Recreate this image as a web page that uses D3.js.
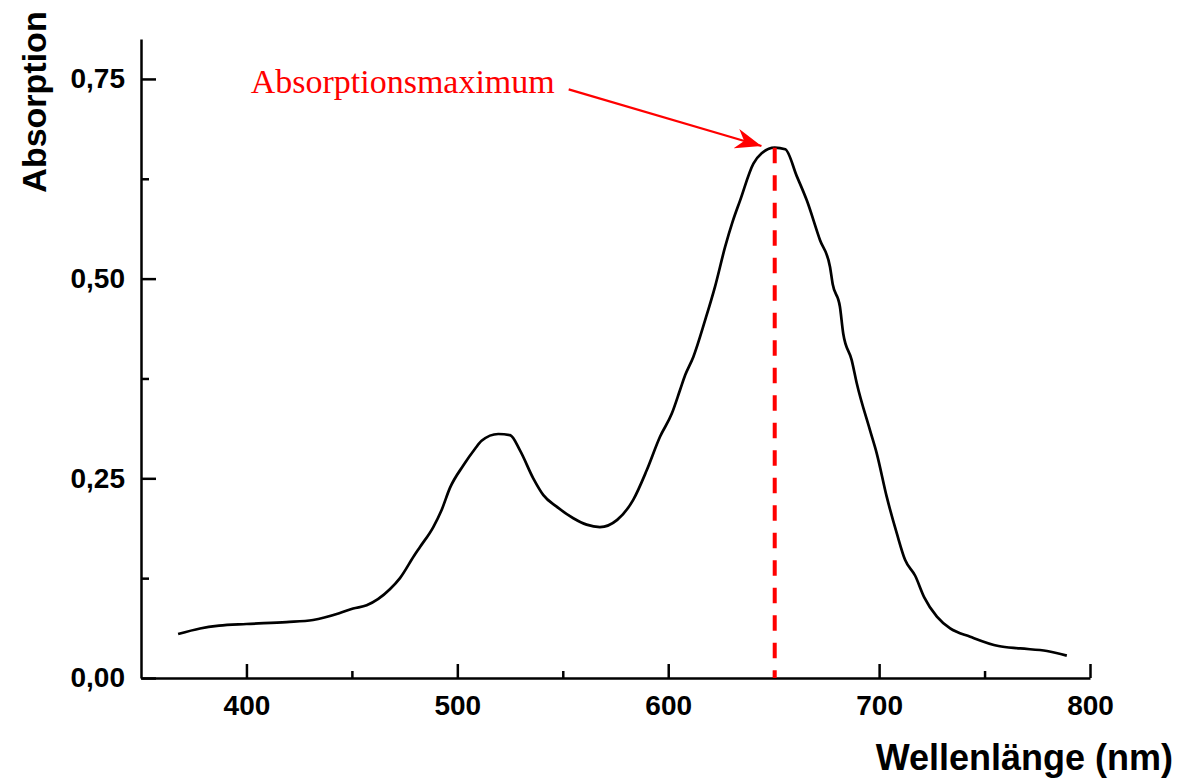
<!DOCTYPE html>
<html><head><meta charset="utf-8">
<script src="https://cdn.jsdelivr.net/npm/d3@7"></script>
<style>
html,body{margin:0;padding:0;background:#fff;}
svg{display:block;}
</style></head>
<body>
<svg id="chart" width="1178" height="779"></svg>
<script>
// ---- data ----
const wavelength = [367.6,378,387,400,419,431.6,444,450.6,457,468,472.8,479.5,482.3,488.6,492.5,496.5,502.8,508.4,511.5,519.4,525,529.7,536,540.8,547.1,555,561.3,567.6,575.8,583.4,589.8,596.1,601.7,605.6,608,611.9,617.5,622.2,627,630.5,634.1,640.4,644.3,650.5,655.5,661,665.7,672,676.7,678,681.4,683,687,689.4,695.7,698.9,703.6,708.4,712.3,717.1,721.4,727.4,733.7,743.2,756.6,766.9,779.6,789];
const absorption = [0.055,0.062,0.0655,0.0676,0.070,0.0726,0.081,0.087,0.091,0.111,0.125,0.153,0.164,0.189,0.210,0.238,0.266,0.287,0.297,0.3055,0.304,0.285,0.250,0.229,0.2145,0.200,0.192,0.189,0.198,0.223,0.260,0.302,0.331,0.3605,0.379,0.402,0.448,0.490,0.540,0.571,0.598,0.644,0.657,0.664,0.662,0.628,0.598,0.548,0.515,0.493,0.465,0.431,0.398,0.369,0.310,0.281,0.227,0.181,0.148,0.128,0.101,0.0768,0.062,0.0517,0.040,0.037,0.0338,0.028];
const xMajorTicks = [400,500,600,700,800];
const xMinorTicks = [450,550,650,750];
const yMajorTicks = [0,0.25,0.5,0.75];
const yMinorTicks = [0.125,0.375,0.625];
const xDomain = [350,800];
const yDomain = [0,0.8];
const peakWavelength = 650.5;
const peakAbsorption = 0.664;
const annotationText = "Absorptionsmaximum";
const annotationTextPos = [402, 0.732];      // data coords (text start)
const arrowStart = [552.8, 0.737];            // data coords
const arrowEnd = [644.2, 0.666];              // data coords
const xLabel = "Wellenlänge (nm)";
const yLabel = "Absorption";

// ---- drawing ----
const svg = d3.select("#chart");
const x = d3.scaleLinear().domain(xDomain).range([141, 1090]);
const y = d3.scaleLinear().domain(yDomain).range([678, 39]);
const loc = d3.formatLocale({decimal:",",thousands:".",grouping:[3],currency:["","€"]});
const fmt = loc.format(".2f");

const tickFont = "'Liberation Sans', Arial, sans-serif";

// X axis
const gx = svg.append("g").attr("transform","translate(0,678)");
gx.call(d3.axisBottom(x).tickValues(xMajorTicks).tickSizeInner(-14).tickSizeOuter(0).tickPadding(17).tickFormat(d3.format("d")));
const gxm = svg.append("g").attr("transform","translate(0,678)");
gxm.call(d3.axisBottom(x).tickValues(xMinorTicks).tickSizeInner(-7).tickSizeOuter(0).tickFormat(""));
gxm.select(".domain").remove();

// Y axis
const gy = svg.append("g").attr("transform","translate(141,0)");
gy.call(d3.axisLeft(y).tickValues(yMajorTicks).tickSizeInner(-15).tickSizeOuter(0).tickPadding(16).tickFormat(fmt));
const gym = svg.append("g").attr("transform","translate(141,0)");
gym.call(d3.axisLeft(y).tickValues(yMinorTicks).tickSizeInner(-8).tickSizeOuter(0).tickFormat(""));
gym.select(".domain").remove();

svg.selectAll(".domain, .tick line").attr("stroke","#000").attr("stroke-width",2.5);
svg.selectAll(".tick text").attr("font-family",tickFont).attr("font-weight","bold").attr("font-size",28).attr("fill","#000");

// axis titles
svg.append("text").attr("x",1173).attr("y",770).attr("text-anchor","end")
  .attr("font-family",tickFont).attr("font-weight","bold").attr("font-size",36).text(xLabel);
svg.append("text").attr("transform","translate(46,102) rotate(-90)").attr("text-anchor","middle")
  .attr("font-family",tickFont).attr("font-weight","bold").attr("font-size",34).text(yLabel);

// spectrum
const line = d3.line().x((d,i)=>x(wavelength[i])).y((d,i)=>y(absorption[i])).curve(d3.curveMonotoneX);
svg.append("path").datum(wavelength).attr("d",line).attr("fill","none").attr("stroke","#000").attr("stroke-width",2.7).attr("stroke-linejoin","round");

// dashed peak line
svg.append("line").attr("x1",x(peakWavelength)).attr("x2",x(peakWavelength))
  .attr("y1",y(peakAbsorption)).attr("y2",y(0))
  .attr("stroke","#ff0000").attr("stroke-width",4).attr("stroke-dasharray","15.5,12");

// annotation
svg.append("defs").append("marker").attr("id","arrow").attr("viewBox","0 0 26 20")
  .attr("refX",26).attr("refY",10).attr("markerWidth",26).attr("markerHeight",20)
  .attr("markerUnits","userSpaceOnUse").attr("orient","auto")
  .append("path").attr("d","M0,0 L26,10 L0,20 L8,10 Z").attr("fill","#ff0000");
svg.append("line").attr("x1",x(arrowStart[0])).attr("y1",y(arrowStart[1]))
  .attr("x2",x(arrowEnd[0])).attr("y2",y(arrowEnd[1]))
  .attr("stroke","#ff0000").attr("stroke-width",2.2).attr("marker-end","url(#arrow)");
svg.append("text").attr("x",x(annotationTextPos[0])).attr("y",y(annotationTextPos[1]))
  .attr("font-family","'Liberation Serif','Times New Roman',serif").attr("font-size",34)
  .attr("fill","#ff0000").text(annotationText);
</script>
</body></html>
